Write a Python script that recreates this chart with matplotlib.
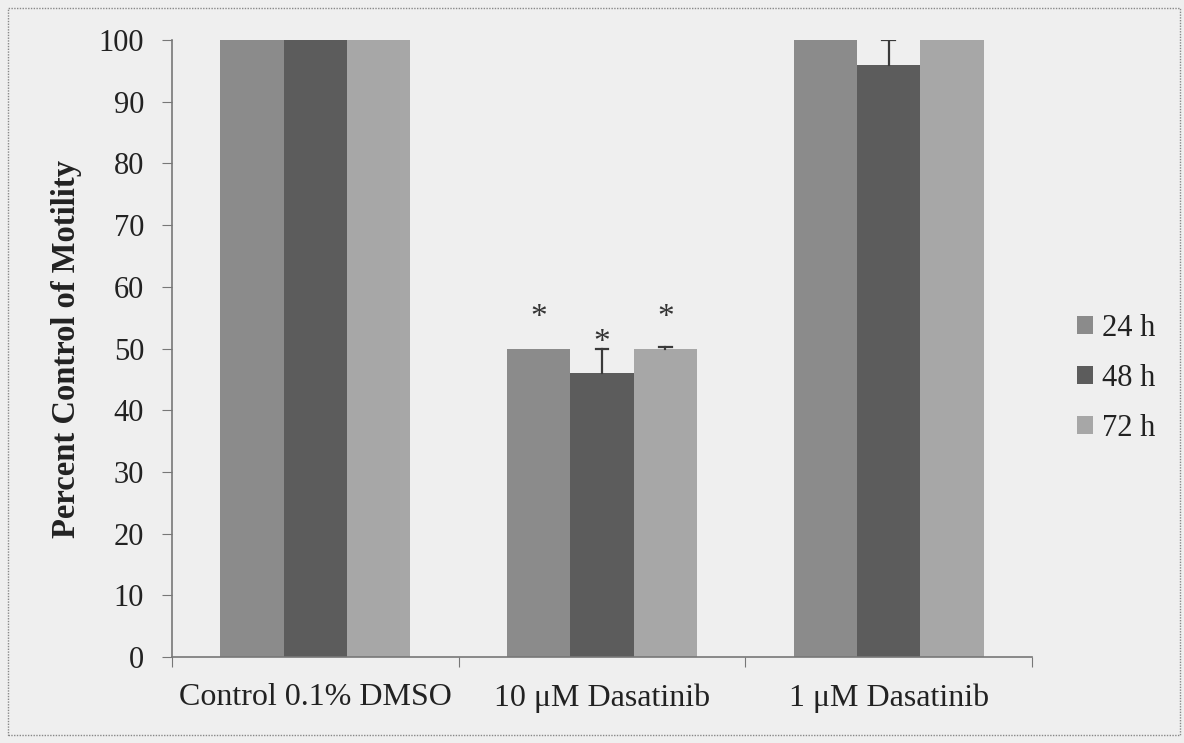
import matplotlib
matplotlib.use("Agg")
import matplotlib.pyplot as plt
import numpy as np
from matplotlib.patches import Rectangle, Patch

categories = ["Control 0.1% DMSO", "10 \u03bcM Dasatinib", "1 \u03bcM Dasatinib"]
series = ["24 h", "48 h", "72 h"]
values = {
    "24 h": [100, 50, 100],
    "48 h": [100, 46, 96],
    "72 h": [100, 50, 100],
}
errors = {
    "24 h": [0, 0, 0],
    "48 h": [0, 4, 4],
    "72 h": [0, 0.2, 0],
}
stars = {
    "24 h": [None, 55.0, None],
    "48 h": [None, 51.0, None],
    "72 h": [None, 55.0, None],
}
colors = {"24 h": "#8b8b8b", "48 h": "#5c5c5c", "72 h": "#a7a7a7"}

plt.rcParams['font.family'] = ['Liberation Serif', 'DejaVu Serif']
bg = "#efefef"
fig = plt.figure(figsize=(11.84, 7.43), dpi=100, facecolor=bg)
ax = fig.add_axes([172/1184, 86/743, 860/1184, 617/743])
ax.set_facecolor(bg)

x = np.arange(len(categories))
w = 0.221
cap = 0.022
for i, s in enumerate(series):
    pos = x + (i - 1) * w
    ax.bar(pos, values[s], width=w, color=colors[s], edgecolor='none', zorder=2)
    for j in range(len(categories)):
        e = errors[s][j]
        if e > 0:
            top = values[s][j] + e
            ax.plot([pos[j], pos[j]], [values[s][j], top], color='#3a3a3a', lw=1.6, zorder=3)
            ax.plot([pos[j] - cap, pos[j] + cap], [top, top], color='#3a3a3a', lw=1.6, zorder=3)
        if stars[s][j] is not None:
            ax.text(pos[j], stars[s][j], "*", ha='center', va='center',
                    fontsize=24, color='#333333', zorder=4)

ax.set_xlim(-0.5, 2.5)
ax.set_ylim(0, 100)
ax.set_yticks(range(0, 101, 10))
ax.set_xticks([-0.5, 0.5, 1.5, 2.5])
ax.set_xticklabels([])
ax.set_xticks(x, minor=True)
ax.set_xticklabels(categories, minor=True)
ax.tick_params(axis='x', which='minor', length=0, pad=19, labelsize=23, labelcolor='#222222')
ax.tick_params(axis='x', which='major', length=7, direction='out', color='#777777')
ax.tick_params(axis='y', length=7, direction='out', color='#777777', labelsize=22,
               labelcolor='#222222', pad=13)
for sp in ['top', 'right']:
    ax.spines[sp].set_visible(False)
for sp in ['left', 'bottom']:
    ax.spines[sp].set_color('#777777')
    ax.spines[sp].set_linewidth(1.2)

ax.set_ylabel("Percent Control of Motility", fontsize=23.5, fontweight='bold',
              color='#222222', labelpad=12)

handles = [Patch(facecolor=colors[s], edgecolor='none') for s in series]
leg = fig.legend(handles, series, loc='center left', bbox_to_anchor=(1049/1184, 0.491),
                 frameon=False, fontsize=22, handlelength=0.55, handleheight=0.55,
                 handletextpad=0.3, labelspacing=0.69, labelcolor='#222222')

fig.patches.append(Rectangle((8/1184, 8/743), 1172/1184, 727/743, transform=fig.transFigure,
                             fill=False, edgecolor='#888888', linestyle=(0, (1, 1)), linewidth=1))

fig.savefig("out.png", dpi=100, facecolor=bg)
